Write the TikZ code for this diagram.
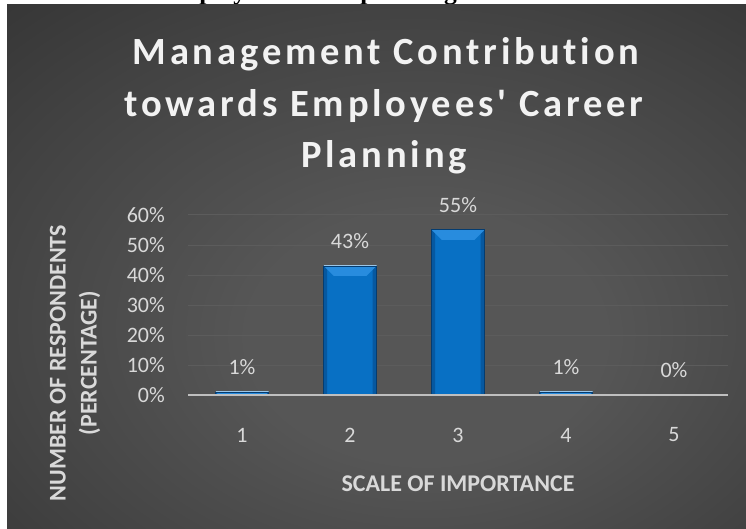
\documentclass[tikz,border=0pt]{standalone}
\usepackage{fontspec}
\setmainfont{Carlito}
\newfontfamily\titlefont[LetterSpace=10, Ligatures=NoCommon]{Carlito}
\newfontfamily\captionfont{Liberation Serif}
\usetikzlibrary{%
  positioning% wg. " of "
}

\definecolor{bgmid}{RGB}{86,86,86}
\definecolor{bgring}{RGB}{66,66,66}
\definecolor{bgedge}{RGB}{40,40,40}
\definecolor{bgcorner}{RGB}{33,33,33}
\definecolor{gridgray}{RGB}{92,92,92}
\definecolor{axisgray}{RGB}{191,191,191}
\definecolor{labelgray}{RGB}{217,217,217}
\definecolor{titlewhite}{RGB}{242,242,242}
\definecolor{barblue}{RGB}{8,112,196}
\definecolor{barlight}{RGB}{40,140,222}
\definecolor{barside}{RGB}{6,88,160}
\definecolor{bardark}{RGB}{4,60,112}

\pgfdeclareradialshading{chartbg}{\pgfpoint{4bp}{-8bp}}{%
  color(0bp)=(bgmid); color(12bp)=(bgmid); color(30bp)=(bgring);
  color(52bp)=(bgedge); color(75bp)=(bgcorner)}

\begin{document}
\begin{tikzpicture}
[x=1pt, y=-1pt,
gridline/.style={draw=gridgray, line width=1pt},
axisline/.style={draw=axisgray, line width=2.2pt},
ticklabel/.style={text=labelgray, inner sep=0pt, font=\fontsize{22}{26}\selectfont},
axistitle/.style={text=labelgray, inner sep=0pt, align=center, font=\fontsize{24}{31}\selectfont\bfseries},
titleline/.style={text=titlewhite, inner sep=0pt, anchor=base, font=\titlefont\fontsize{38.5}{46}\selectfont\bfseries},
captiontext/.style={text=black, inner sep=0pt, anchor=base east, font=\captionfont\fontsize{25.5}{30}\selectfont\bfseries},
bar/.style={rectangle, fill=barblue, draw=bardark, line width=0.5pt, inner sep=0pt,
  minimum width=53pt, anchor=south,
  path picture={
    \fill[barside] (path picture bounding box.north west)
      -- ([xshift=3.5pt,yshift=-3.5pt]path picture bounding box.north west)
      -- ([xshift=3.5pt]path picture bounding box.south west)
      -- (path picture bounding box.south west) -- cycle;
    \fill[barside] (path picture bounding box.north east)
      -- ([xshift=-4pt,yshift=-4pt]path picture bounding box.north east)
      -- ([xshift=-4pt]path picture bounding box.south east)
      -- (path picture bounding box.south east) -- cycle;
    \fill[barlight] (path picture bounding box.north west)
      -- (path picture bounding box.north east)
      -- ([xshift=-10pt,yshift=-10pt]path picture bounding box.north east)
      -- ([xshift=10pt,yshift=-10pt]path picture bounding box.north west) -- cycle;
    \draw[barblue!40!white, line width=1pt] (path picture bounding box.north west)
      -- (path picture bounding box.north east);
  }}]

\useasboundingbox (0,0) rectangle (746,529);
\fill[white] (0,0) rectangle (746,529);
\node[captiontext] (caption) at (457,0) {towards employees career planning};
\shade[shading=chartbg] (7,5) rectangle (746,529);

% title
\node[titleline] (title1) at (386,65) {Management Contribution};
\node[titleline] (title2) at (384,117) {towards Employees' Career};
\node[titleline] (title3) at (384,168) {Planning};

% grid and axis
\draw[gridline] (188,215) -- (728,215);
\draw[gridline] (188,245) -- (728,245);
\draw[gridline] (188,275) -- (728,275);
\draw[gridline] (188,305) -- (728,305);
\draw[gridline] (188,335) -- (728,335);
\draw[gridline] (188,365) -- (728,365);

\node[ticklabel, anchor=east] (ytick60) at (165,215) {60\%};
\node[ticklabel, anchor=east] (ytick50) at (165,245) {50\%};
\node[ticklabel, anchor=east] (ytick40) at (165,275) {40\%};
\node[ticklabel, anchor=east] (ytick30) at (165,305) {30\%};
\node[ticklabel, anchor=east] (ytick20) at (165,335) {20\%};
\node[ticklabel, anchor=east] (ytick10) at (165,365) {10\%};
\node[ticklabel, anchor=east] (ytick0) at (165,395) {0\%};

% bars
\node[bar, minimum height=3pt] (bar1) at (242,395) {};
\node[bar, minimum height=129pt] (bar2) at (350,395) {};
\node[bar, minimum height=165pt] (bar3) at (458,395) {};
\node[bar, minimum height=3pt] (bar4) at (566,395) {};
\coordinate (bar5) at (674,395);

\draw[axisline] (188,395) -- (728,395);

\node[ticklabel, above=17pt of bar1] (val1) {1\%};
\node[ticklabel, above=17pt of bar2] (val2) {43\%};
\node[ticklabel, above=17pt of bar3] (val3) {55\%};
\node[ticklabel, above=17pt of bar4] (val4) {1\%};
\node[ticklabel, above=17pt of bar5] (val5) {0\%};

\node[ticklabel] (cat1) at (242,435) {1};
\node[ticklabel] (cat2) at (350,435) {2};
\node[ticklabel] (cat3) at (458,435) {3};
\node[ticklabel] (cat4) at (566,435) {4};
\node[ticklabel] (cat5) at (674,435) {5};

% axis titles
\node[axistitle] (xtitle) at (458,484) {SCALE OF IMPORTANCE};
\node[axistitle, rotate=90] (ytitle) at (75,363) {NUMBER OF RESPONDENTS\\(PERCENTAGE)};
\end{tikzpicture}
\end{document}
